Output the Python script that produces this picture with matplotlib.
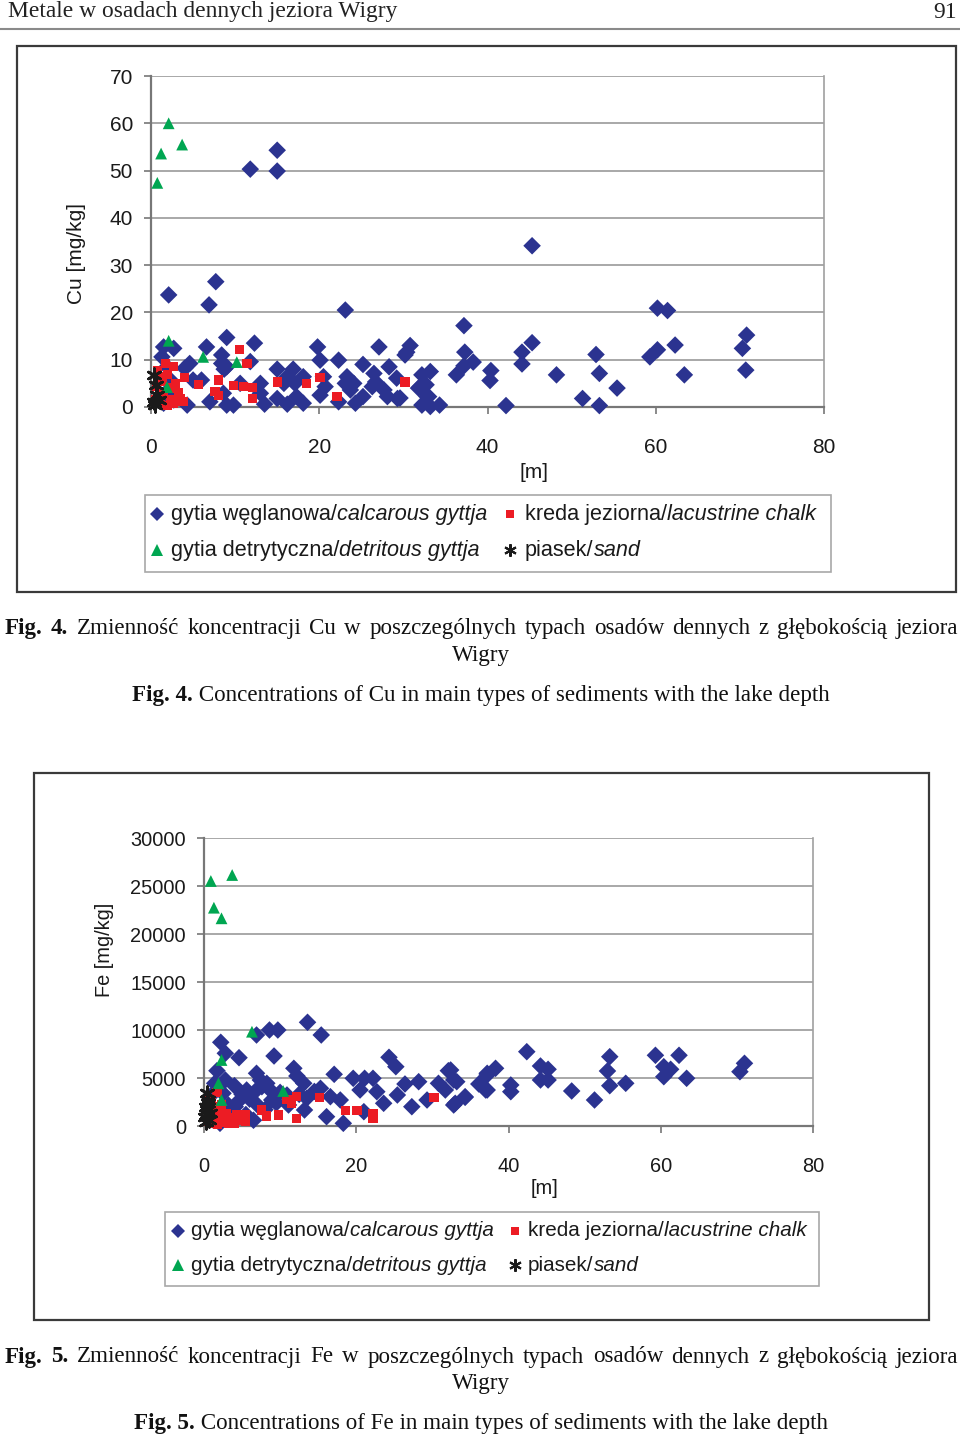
import numpy as np
import matplotlib
matplotlib.use('Agg')
import matplotlib.pyplot as plt
from matplotlib.patches import Rectangle
from matplotlib.lines import Line2D

W, H = 960, 1438

# Cu [mg/kg] vs depth [m]
cu_calc = [(11.8, 50.3), (15.0, 54.3), (15.0, 49.9), (7.7, 26.5), (6.9, 21.6), (2.1, 23.7),
           (23.1, 20.5), (45.3, 34.1), (60.2, 20.9), (61.4, 20.4), (37.2, 17.2), (37.3, 11.6),
           (38.3, 9.5), (37.2, 8.7), (36.3, 6.8), (40.4, 7.7), (40.3, 5.6), (42.2, 0.3),
           (44.1, 11.6), (44.1, 9.1), (45.3, 13.6), (48.2, 6.8), (52.9, 11.1), (53.3, 7.1),
           (51.3, 1.8), (53.3, 0.3), (55.4, 4.0), (59.3, 10.6), (60.2, 12.1), (62.3, 13.1),
           (63.4, 6.8), (70.8, 15.2), (70.3, 12.4), (70.7, 7.8), (30.8, 13.0), (30.2, 11.0),
           (33.2, 7.5), (32.2, 6.8), (31.8, 4.0), (32.7, 4.7), (33.0, 2.2), (32.2, 0.4),
           (33.2, 0.1), (34.3, 0.4), (29.6, 1.9), (9.0, 14.7), (12.3, 13.5), (6.6, 12.7),
           (19.8, 12.7), (27.1, 12.7), (30.4, 11.6), (1.5, 12.7), (2.7, 12.4), (8.4, 11.0),
           (8.4, 9.2), (11.8, 9.6), (4.6, 9.2), (4.0, 8.2), (9.0, 8.5), (20.1, 9.9),
           (22.3, 9.9), (25.2, 9.0), (28.3, 8.5), (8.7, 8.0), (15.0, 8.0), (16.9, 8.0),
           (5.0, 5.7), (6.0, 5.7), (13.0, 5.0), (10.6, 5.0), (16.2, 6.4), (18.1, 6.4),
           (17.1, 5.0), (20.7, 4.3), (23.3, 6.4), (24.1, 5.0), (26.5, 7.1), (26.7, 5.3),
           (29.2, 6.1), (32.0, 4.3), (13.0, 2.9), (8.6, 2.9), (7.0, 1.1), (9.0, 0.4),
           (9.8, 0.4), (4.3, 0.4), (13.5, 0.6), (15.0, 1.8), (16.2, 0.6), (18.1, 0.8),
           (20.1, 2.5), (22.3, 1.1), (24.3, 0.8), (25.2, 2.2), (28.1, 2.2), (29.3, 1.8),
           (32.8, 2.2), (23.7, 3.6), (27.7, 3.6), (20.5, 6.4), (17.3, 2.2), (15.8, 5.0),
           (23.1, 5.0), (26.3, 4.3), (1.3, 10.6), (1.9, 8.5), (2.3, 5.7), (2.1, 3.6),
           (1.5, 0.8), (2.7, 1.5)]
cu_chalk = [(10.5, 12.2), (11.4, 9.2), (4.0, 6.2), (5.6, 4.7), (8.0, 5.7), (7.6, 3.2),
            (8.0, 2.5), (9.8, 4.5), (11.0, 4.4), (12.1, 4.2), (12.1, 1.8), (15.0, 5.3),
            (18.5, 5.0), (20.1, 6.2), (22.1, 2.2), (30.2, 5.3), (1.7, 9.2), (2.7, 8.5),
            (2.9, 5.0), (1.1, 6.4), (0.7, 4.3), (1.5, 2.9), (0.5, 1.5), (2.3, 1.5),
            (3.1, 1.5), (3.8, 1.1), (1.1, 0.8), (1.9, 0.4), (2.7, 0.8), (3.5, 1.8),
            (0.8, 7.8), (2.0, 6.8), (1.3, 5.5), (2.4, 4.0), (3.3, 3.0), (0.9, 2.2)]
cu_detr = [(2.1, 60.0), (1.2, 53.6), (3.7, 55.5), (0.75, 47.4), (2.1, 14.0), (6.2, 10.6),
           (10.2, 9.5), (1.9, 4.2)]
cu_sand = [(0.36, 6.8), (0.7, 2.5), (0.3, 1.1), (0.5, 0.4), (0.9, 1.5), (0.6, 4.7)]

# Fe [mg/kg] vs depth [m]
fe_calc = [(2.2, 8719), (2.8, 7573), (4.6, 7115), (6.9, 9479), (8.6, 10000), (9.7, 10000),
           (13.6, 10802), (15.4, 9479), (9.2, 7292), (24.3, 7156), (25.2, 6177), (1.7, 5760),
           (6.9, 5490), (11.8, 6010), (12.2, 5208), (17.1, 5385), (19.6, 4969), (21.1, 4969),
           (22.2, 4969), (32.1, 5760), (28.2, 4615), (30.8, 4448), (33.2, 4615), (37.2, 5313),
           (36.1, 4375), (37.0, 3750), (34.3, 2990), (32.8, 2188), (27.3, 2010), (29.3, 2708),
           (25.4, 3229), (23.6, 2365), (22.7, 3573), (20.5, 3750), (21.0, 1490), (17.9, 2708),
           (16.6, 3052), (15.3, 3927), (13.5, 2885), (13.2, 1667), (16.1, 969), (18.3, 281),
           (13.1, 4448), (10.9, 3229), (11.1, 2188), (8.7, 3750), (8.9, 2708), (8.25, 4448),
           (6.9, 3750), (5.6, 3750), (4.7, 2708), (4.1, 2010), (2.8, 4792), (1.4, 4448),
           (1.2, 3406), (2.5, 3406), (3.2, 2188), (3.9, 969), (1.2, 625), (2.1, 281),
           (7.4, 4792), (7.6, 4094), (42.4, 7740), (44.2, 6250), (45.2, 5906), (44.2, 4792),
           (45.2, 4792), (48.3, 3646), (51.3, 2708), (53.3, 7219), (53.0, 5729), (53.3, 4198),
           (55.4, 4448), (59.3, 7365), (60.4, 6177), (61.3, 5906), (60.4, 5135), (62.4, 7365),
           (63.4, 4969), (71.0, 6531), (70.4, 5656), (32.4, 5833), (32.8, 4792), (33.0, 2365),
           (34.3, 3052), (31.7, 3750), (36.3, 4448), (37.2, 3750), (37.2, 5490), (38.3, 6010),
           (40.3, 4271), (40.3, 3573), (26.4, 4375), (4.0, 4200), (5.0, 3300), (6.0, 2800),
           (7.0, 2200), (8.0, 1700), (9.5, 2400), (10.0, 3500), (12.5, 3300), (14.5, 3600),
           (3.5, 1500), (5.5, 1200), (6.5, 600)]
fe_chalk = [(1.7, 3510), (5.4, 1146), (7.6, 1667), (8.2, 1042), (9.8, 1146), (10.9, 2781),
            (11.5, 2365), (12.1, 3052), (12.1, 802), (15.2, 2948), (18.6, 1594), (20.1, 1594),
            (22.2, 1323), (22.2, 802), (30.2, 2948), (1.2, 2010), (2.1, 1667), (3.0, 1323),
            (1.7, 802), (2.5, 625), (3.6, 625), (4.3, 625), (0.8, 1146), (0.6, 448),
            (2.3, 2188), (3.2, 281), (4.3, 1146), (1.4, 1490), (0.5, 2800), (1.0, 2400),
            (1.5, 1900), (2.8, 1000), (3.5, 900), (4.8, 700), (5.5, 500), (0.9, 300),
            (1.8, 200), (2.7, 350), (4.0, 300)]
fe_detr = [(0.9, 25521), (3.7, 26146), (1.3, 22740), (2.3, 21635), (6.3, 9823), (2.3, 6875),
           (1.9, 4448), (2.3, 2708), (10.4, 3646)]
fe_sand = [(0.5, 2365), (0.35, 1667), (0.13, 969), (0.6, 625), (0.35, 3406), (0.8, 1323),
           (0.2, 2000), (0.4, 1200), (0.25, 400), (0.5, 2700)]

x_ticks = [0, 20, 40, 60, 80]
cu_ticks = [0, 10, 20, 30, 40, 50, 60, 70]
fe_ticks = [0, 5000, 10000, 15000, 20000, 25000, 30000]

labels = [('gytia węglanowa/', 'calcarous gyttja'),
          ('kreda jeziorna/', 'lacustrine chalk'),
          ('gytia detrytyczna/', 'detritous gyttja'),
          ('piasek/', 'sand')]

BLUE = '#2b3390'
RED = '#ec1c24'
GREEN = '#00a651'
BLACK = '#1a1a1a'
STAR = (6, 2, 0)

SANS = 'Liberation Sans'
SERIF = 'Liberation Serif'
CAP_FS = 16.6

fig = plt.figure(figsize=(W / 100, H / 100), dpi=100)
r = fig.canvas.get_renderer()


def fx(px):
    return px / W


def fy(py):
    return 1 - py / H


def txt(px, py, s, **kw):
    return fig.text(fx(px), fy(py), s, **kw)


def width(t):
    return t.get_window_extent(r).width


def box(x0, y0, x1, y1, color, lw):
    fig.patches.append(Rectangle((fx(x0), fy(y1)), fx(x1) - fx(x0), fy(y0) - fy(y1),
                                 transform=fig.transFigure, fill=False, edgecolor=color, lw=lw))


def chart(pts_list, x0, x1, y0, y1, yt, ylab, ylab_xy, m_xy, box_xy, leg_xy, leg_cols,
          fs, leg_fs):
    ax = fig.add_axes([fx(x0), fy(y0), fx(x1) - fx(x0), fy(y1) - fy(y0)])
    styles = [('D', BLUE, 80), ('s', RED, 44), ('^', GREEN, 72), (STAR, BLACK, 95)]
    for pts, (mk, col, s) in zip(pts_list, styles):
        a = np.array(pts)
        if mk == STAR:
            ax.scatter(a[:, 0], a[:, 1], marker=mk, s=s, color=col, linewidths=2.0,
                       zorder=5, clip_on=False)
        else:
            ax.scatter(a[:, 0], a[:, 1], marker=mk, s=s, color=col, edgecolors='none',
                       zorder=4, clip_on=False)
    ax.set_xlim(0, 80)
    ax.set_ylim(yt[0], yt[-1])
    ax.set_xticks(x_ticks)
    ax.set_yticks(yt)
    ax.set_yticklabels([str(v) for v in yt])
    ax.grid(axis='y', color='#9a9a9a', lw=1.2)
    ax.set_axisbelow(True)
    for sp in ax.spines.values():
        sp.set_color('#a0a0a0')
        sp.set_linewidth(1.2)
    ax.spines['left'].set_color('#777777')
    ax.spines['bottom'].set_color('#777777')
    ax.spines['left'].set_linewidth(1.6)
    ax.spines['bottom'].set_linewidth(1.6)
    ax.spines['top'].set_visible(False)
    ax.tick_params(axis='both', colors='#777777', length=5, width=1.2, labelcolor='#1a1a1a',
                   labelsize=fs)
    ax.tick_params(axis='y', pad=8)
    ax.tick_params(axis='x', pad=17)
    for lab in ax.get_xticklabels() + ax.get_yticklabels():
        lab.set_fontfamily(SANS)
    # axis titles
    txt(m_xy[0], m_xy[1], '[m]', fontsize=fs, family=SANS, ha='center', va='center',
        color='#1a1a1a')
    txt(ylab_xy[0], ylab_xy[1], ylab, fontsize=fs, family=SANS, rotation=90,
        ha='center', va='center', color='#1a1a1a')
    # outer frame
    box(*box_xy, color='#3a3a3a', lw=1.6)
    # legend
    lx0, ly0, lx1, ly1 = leg_xy
    box(lx0, ly0, lx1, ly1, color='#a8a8a8', lw=1.2)
    rows = [ly0 + (ly1 - ly0) * 0.25, ly0 + (ly1 - ly0) * 0.72]
    order = [(0, 0, 0), (1, 1, 0), (2, 0, 1), (3, 1, 1)]
    lstyles = [('D', BLUE, 7.5), ('s', RED, 6), ('^', GREEN, 8), (STAR, BLACK, 9)]
    for idx, col_i, row_i in order:
        mx, tx = leg_cols[col_i]
        yy = rows[row_i]
        mk, col, ms = lstyles[idx]
        fig.lines.append(Line2D([fx(mx)], [fy(yy)], transform=fig.transFigure, marker=mk,
                                ms=ms, color=col, mec=col,
                                mew=1.5 if mk == STAR else 0, ls='none'))
        n, it = labels[idx]
        t1 = txt(tx, yy, n, fontsize=leg_fs, family=SANS, va='center', color='#1a1a1a')
        w1 = width(t1)
        txt(tx + w1, yy, it, fontsize=leg_fs, family=SANS, style='italic', va='center',
            color='#1a1a1a')
    return ax


def caption(num, metal, y_pl, y_w, y_en):
    words = ['Fig.', num + '.', 'Zmienność', 'koncentracji', metal, 'w', 'poszczególnych',
             'typach', 'osadów', 'dennych', 'z', 'głębokością', 'jeziora']
    ts = []
    for i, w in enumerate(words):
        ts.append(txt(0, y_pl, w, fontsize=CAP_FS, family=SERIF, va='center',
                      weight='bold' if i < 2 else 'normal', color='#111111'))
    ws = [width(t) for t in ts]
    x0, x1 = 5, 958
    gap = (x1 - x0 - sum(ws)) / (len(ws) - 1)
    x = x0
    for t, w in zip(ts, ws):
        t.set_x(fx(x))
        x += w + gap
    txt(481, y_w, 'Wigry', fontsize=CAP_FS, family=SERIF, ha='center', va='center',
        color='#111111')
    b = txt(0, y_en, 'Fig. ' + num + '.', fontsize=CAP_FS, family=SERIF, weight='bold',
            va='center', color='#111111')
    rest = txt(0, y_en, ' Concentrations of ' + metal +
               ' in main types of sediments with the lake depth',
               fontsize=CAP_FS, family=SERIF, va='center', color='#111111')
    wb, wr = width(b), width(rest)
    start = 481 - (wb + wr) / 2
    b.set_x(fx(start))
    rest.set_x(fx(start + wb))


# header
txt(8, 12, 'Metale w osadach dennych jeziora Wigry', fontsize=16.9, family=SERIF,
    va='center', color='#222222')
txt(957, 12, '91', fontsize=16.9, family=SERIF, ha='right', va='center', color='#222222')
fig.lines.append(Line2D([0, 1], [fy(29), fy(29)], transform=fig.transFigure,
                        color='#8a8a8a', lw=1.5))

chart([cu_calc, cu_chalk, cu_detr, cu_sand], 151, 824, 407, 76, cu_ticks, 'Cu [mg/kg]',
      (76, 253), (534, 472), (17, 46, 956, 592), (145, 495, 831, 572),
      [(157, 171), (510, 525)], 15, 15.6)
caption('4', 'Cu', 629, 656, 696)

chart([fe_calc, fe_chalk, fe_detr, fe_sand], 204, 813, 1126, 838, fe_ticks, 'Fe [mg/kg]',
      (105, 950), (544, 1189), (34, 773, 929, 1320), (165, 1212, 819, 1286),
      [(178, 191), (515, 528)], 14.4, 14.9)
caption('5', 'Fe', 1357, 1383, 1423)

fig.savefig('out.png', dpi=100)
